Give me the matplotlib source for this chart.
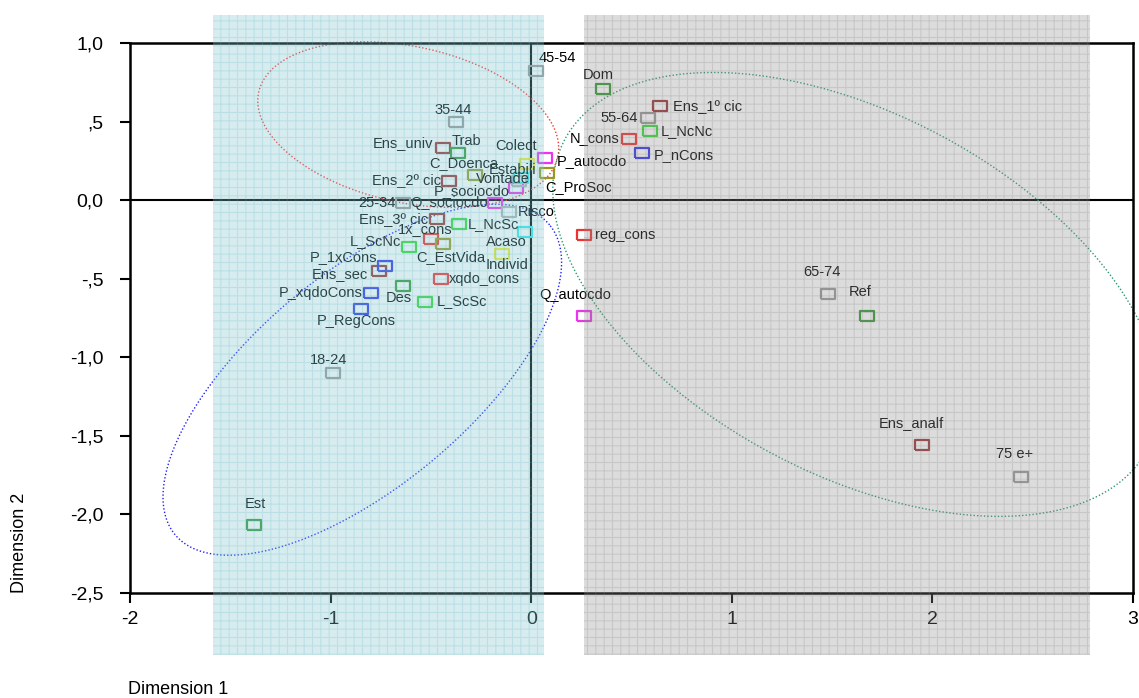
import numpy as np
import matplotlib
matplotlib.use('Agg')
import matplotlib.pyplot as plt
from matplotlib.patches import Rectangle, Polygon

plt.rcParams['font.family'] = ['Liberation Sans', 'DejaVu Sans']
plt.rcParams['hatch.linewidth'] = 0.8

# category coordinates (dimension 1, dimension 2), one list per variable
idade = ['18-24', '25-34', '35-44', '45-54', '55-64', '65-74', '75 e+']
idade_x = [-0.99, -0.64, -0.377, 0.025, 0.58, 1.48, 2.44]
idade_y = [-1.10, -0.02, 0.50, 0.82, 0.52, -0.60, -1.765]

ensino = ['Ens_univ', 'Ens_2º cic', 'Ens_3º cic', 'Ens_sec', 'Ens_1º cic', 'Ens_analf']
ensino_x = [-0.44, -0.41, -0.47, -0.76, 0.64, 1.95]
ensino_y = [0.33, 0.12, -0.12, -0.45, 0.60, -1.56]

ocup = ['Trab', 'Des', 'Est', 'Dom', 'Ref']
ocup_x = [-0.365, -0.64, -1.38, 0.36, 1.675]
ocup_y = [0.30, -0.545, -2.07, 0.71, -0.74]

lugar = ['L_NcNc', 'L_NcSc', 'L_ScNc', 'L_ScSc']
lugar_x = [0.59, -0.36, -0.61, -0.53]
lugar_y = [0.44, -0.15, -0.30, -0.645]

pares = ['P_1xCons', 'P_xqdoCons', 'P_RegCons', 'P_nCons']
pares_x = [-0.73, -0.80, -0.85, 0.55]
pares_y = [-0.42, -0.59, -0.69, 0.30]

cons = ['1x_cons', 'xqdo_cons', 'reg_cons', 'N_cons']
cons_x = [-0.50, -0.45, 0.265, 0.49]
cons_y = [-0.25, -0.50, -0.22, 0.39]

cdo = ['P_sociocdo', 'Q_sociocdo', 'P_autocdo', 'Q_autocdo']
cdo_x = [-0.076, -0.18, 0.07, 0.265]
cdo_y = [0.075, -0.02, 0.27, -0.74]

causa = ['C_Doenca', 'C_EstVida', 'C_ProSoc']
causa_x = [-0.28, -0.44, 0.08]
causa_y = [0.16, -0.28, 0.17]

vontade = ['Vontade', 'Risco']
vontade_x = [-0.06, -0.11]
vontade_y = [0.12, -0.075]

estab = ['Estabili', 'Acaso']
estab_x = [-0.05, -0.03]
estab_y = [0.14, -0.20]

colect = ['Colect', 'Individ']
colect_x = [-0.02, -0.145]
colect_y = [0.23, -0.34]

groups = [
    (idade, idade_x, idade_y, '#9a9a9a'),
    (ensino, ensino_x, ensino_y, '#993333'),
    (ocup, ocup_x, ocup_y, '#339933'),
    (lugar, lugar_x, lugar_y, '#33dd33'),
    (pares, pares_x, pares_y, '#3333ee'),
    (cons, cons_x, cons_y, '#ee3333'),
    (cdo, cdo_x, cdo_y, '#ee33ee'),
    (causa, causa_x, causa_y, '#999922'),
    (vontade, vontade_x, vontade_y, '#b4b4b4'),
    (estab, estab_x, estab_y, '#33eeee'),
    (colect, colect_x, colect_y, '#eeee33'),
]

# label placement: offset in pixels from the marker and alignment
lab = {
    '45-54': (21, 13, 'center'), 'Dom': (-5, 14, 'center'), 'Ens_1º cic': (13, 0, 'left'),
    '55-64': (-10, 0, 'right'), 'L_NcNc': (11, 0, 'left'), 'N_cons': (-10, 1, 'right'),
    'P_nCons': (12, -2, 'left'), '35-44': (-2, 12, 'center'), 'Ens_univ': (-10, 5, 'right'),
    'Trab': (8, 12, 'center'), 'C_Doenca': (-11, 12, 'center'), 'Colect': (-11, 18, 'center'),
    'Estabili': (-9, 8, 'center'), 'Vontade': (-16, 2, 'center'), 'P_autocdo': (12, -3, 'left'),
    'C_ProSoc': (-2, -14, 'left'), 'Ens_2º cic': (-8, 1, 'right'), 'P_sociocdo': (-6, -3, 'right'),
    'Q_sociocdo': (-7, 0, 'right'), '25-34': (-7, 0, 'right'), 'Risco': (9, 0, 'left'),
    'Ens_3º cic': (-9, 0, 'right'), 'L_NcSc': (9, 0, 'left'), 'Acaso': (-19, -10, 'center'),
    '1x_cons': (-6, 10, 'center'), 'C_EstVida': (8, -13, 'center'), 'L_ScNc': (-8, 6, 'right'),
    'Individ': (5, -11, 'center'), 'P_1xCons': (-8, 9, 'right'), 'Ens_sec': (-11, -3, 'right'),
    'xqdo_cons': (8, 0, 'left'), 'Des': (-4, -12, 'center'), 'P_xqdoCons': (-8, 0, 'right'),
    'L_ScSc': (12, 0, 'left'), 'P_RegCons': (-4, -12, 'center'), 'reg_cons': (11, 0, 'left'),
    'Q_autocdo': (-9, 21, 'center'), '18-24': (-4, 13, 'center'), 'Est': (1, 21, 'center'),
    '65-74': (-6, 22, 'center'), 'Ref': (-7, 24, 'center'), 'Ens_analf': (-11, 22, 'center'),
    '75 e+': (-6, 23, 'center'),
}

W, H = 1139, 698
fig = plt.figure(figsize=(W / 100, H / 100), dpi=100)
left, right, top, bottom = 130, 1133, 43, 593
ax = fig.add_axes([left / W, 1 - bottom / H, (right - left) / W, (bottom - top) / H])
ax.set_xlim(-2, 3)
ax.set_ylim(-2.5, 1.0)
sx = (right - left) / 5.0
sy = (bottom - top) / 3.5

for s in ax.spines.values():
    s.set_linewidth(1.8)
ax.axhline(0, color='black', lw=1.5, zorder=1)
ax.axvline(0, color='black', lw=1.5, zorder=1)

ax.set_xticks([-2, -1, 0, 1, 2, 3])
ax.set_xticklabels(['-2', '-1', '0', '1', '2', '3'])
ax.set_yticks([1.0, 0.5, 0.0, -0.5, -1.0, -1.5, -2.0, -2.5])
ax.set_yticklabels(['1,0', ',5', '0,0', '-,5', '-1,0', '-1,5', '-2,0', '-2,5'])
ax.tick_params(axis='both', labelsize=14, width=1.5, length=7, direction='out')
ax.tick_params(axis='y', pad=12)
ax.tick_params(axis='x', pad=6)

# dotted ellipses around the groups (centre in data units, semi-axes in pixels)
def ellipse(cx, cy, a, b, ang, color):
    t = np.linspace(0, 2 * np.pi, 500)
    th = np.radians(ang)
    dx = a * np.cos(t) * np.cos(th) - b * np.sin(t) * np.sin(th)
    dy = a * np.cos(t) * np.sin(th) + b * np.sin(t) * np.cos(th)
    ax.add_patch(Polygon(np.column_stack([cx + dx / sx, cy + dy / sy]), closed=True, fill=False,
                         ec=color, ls=(0, (1, 1.5)), lw=1.0, clip_on=False, zorder=2))

ellipse(-0.613, 0.481, 153, 78, -12.2, '#ff3030')
ellipse(-0.842, -1.143, 243, 107, 39.6, '#2020ff')
ellipse(1.62, -0.60, 330, 180, -28, '#2a9a6a')

rect = [(-1.3, -1), (1.3, -1), (1.3, 1), (-1.3, 1), (-1.3, -1)]
for names, xs, ys, c in groups:
    ax.plot(xs, ys, ls='none', marker=rect, ms=10, mfc='none', mec=c, mew=1.6, zorder=3)
    for n, x, y in zip(names, xs, ys):
        dx, dy, ha = lab[n]
        ax.annotate(n, (x, y), xytext=(dx, dy), textcoords='offset pixels', ha=ha, va='center',
                    fontsize=10.5, color='black', zorder=4)

fig.text(20 / W, 1 - bottom / H, 'Dimension 2', rotation=90, ha='center', va='bottom', fontsize=13)
fig.text(128 / W, 1 - 689 / H, 'Dimension 1', ha='left', va='center', fontsize=13)

# translucent hatched panels laid over the whole chart
panels = [((213, 15, 544, 655), (131 / 255, 197 / 255, 206 / 255), 0.32, '#5ab4c0'),
          ((584, 15, 1090, 655), (0.55, 0.55, 0.55), 0.30, '#808080')]
for (x0, y0, x1, y1), fc, al, hc in panels:
    xy = (x0 / W, 1 - y1 / H)
    w, h = (x1 - x0) / W, (y1 - y0) / H
    fig.add_artist(Rectangle(xy, w, h, transform=fig.transFigure, fc=fc, ec='none', alpha=al, zorder=10))
    fig.add_artist(Rectangle(xy, w, h, transform=fig.transFigure, fc='none', ec=hc, lw=0,
                             hatch='++', alpha=0.22, zorder=11))

fig.savefig('out.png', dpi=100)
